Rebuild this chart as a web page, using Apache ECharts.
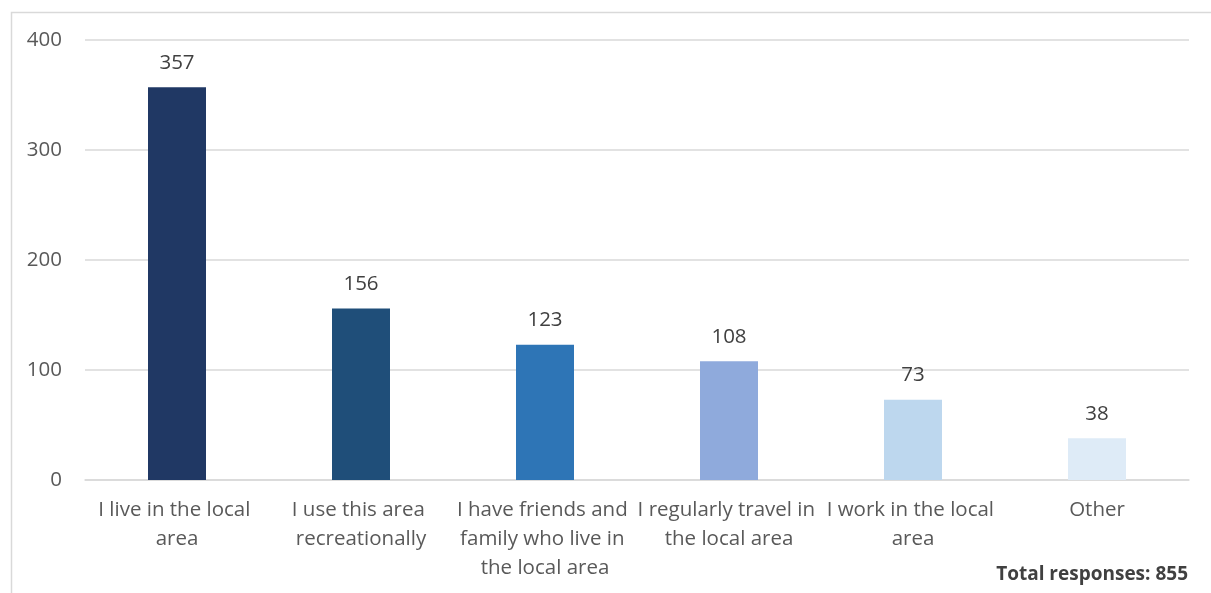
<!DOCTYPE html>
<html>
<head>
<meta charset="utf-8">
<script src="https://cdn.jsdelivr.net/npm/echarts@6/dist/echarts.min.js"></script>
<style>
  html, body { margin: 0; padding: 0; background: #ffffff; }
  #chart { width: 1211px; height: 593px; }
</style>
</head>
<body>
<div id="chart"></div>
<script>
// Reasons for connection to the area (number of responses)
const categories = [
  'I live in the local area',
  'I use this area recreationally',
  'I have friends and family who live in the local area',
  'I regularly travel in the local area',
  'I work in the local area',
  'Other'
];
const responses = [357, 156, 123, 108, 73, 38];
const barColors = ['#203864', '#1F4E79', '#2E75B6', '#8FAADC', '#BDD7EE', '#DEEBF7'];
const yTicks = { min: 0, max: 400, interval: 100 };
const totalLabel = 'Total responses: 855';

const FONT = '"Open Sans", sans-serif';
const TEXT = '#595959';

const chart = echarts.init(document.getElementById('chart'), null, { renderer: 'canvas' });

chart.setOption({
  animation: false,
  backgroundColor: '#ffffff',
  grid: { left: 85, right: 22, top: 40, bottom: 113, containLabel: false },
  xAxis: {
    type: 'category',
    data: categories,
    axisLine: { show: true, lineStyle: { color: '#d9d9d9', width: 1.5 } },
    axisTick: { show: false },
    axisLabel: {
      interval: 0,
      margin: 16,
      color: TEXT,
      fontFamily: FONT,
      fontSize: 20.5,
      lineHeight: 29,
      width: 190,
      overflow: 'break'
    }
  },
  yAxis: {
    type: 'value',
    min: yTicks.min,
    max: yTicks.max,
    interval: yTicks.interval,
    axisLine: { show: false },
    axisTick: { show: false },
    splitLine: { lineStyle: { color: '#d9d9d9', width: 1.5 } },
    axisLabel: { margin: 23, color: TEXT, fontFamily: FONT, fontSize: 20.5 }
  },
  series: [{
    type: 'bar',
    data: responses.map((v, i) => ({ value: v, itemStyle: { color: barColors[i] } })),
    barWidth: 58,
    label: {
      show: true,
      position: 'top',
      distance: 14,
      color: '#404040',
      fontFamily: FONT,
      fontSize: 20.5
    }
  }],
  graphic: [
    {
      type: 'rect',
      left: 9, top: 10,
      shape: { width: 1400, height: 800 },
      style: { fill: 'none', stroke: '#d9d9d9', lineWidth: 1.5 },
      silent: true
    },
    {
      type: 'text',
      right: 23, top: 565,
      style: {
        text: totalLabel,
        fill: '#404040',
        font: 'bold 19px ' + FONT
      }
    }
  ]
});
</script>
</body>
</html>
